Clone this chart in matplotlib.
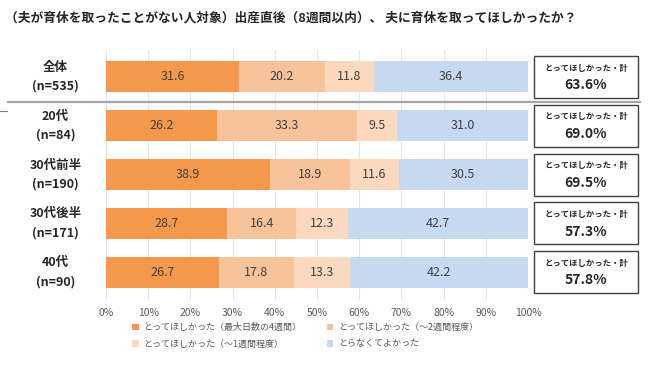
import matplotlib.pyplot as plt
from matplotlib.lines import Line2D
from matplotlib.patches import Rectangle
import matplotlib.transforms as mtransforms

plt.rcParams['font.family'] = ['Noto Sans CJK JP', 'DejaVu Sans']

# data
groups = ['全体\n(n=535)', '20代\n(n=84)', '30代前半\n(n=190)', '30代後半\n(n=171)', '40代\n(n=90)']
series_names = ['とってほしかった（最大日数の4週間）', 'とってほしかった（～2週間程度）',
                'とってほしかった（～1週間程度）', 'とらなくてよかった']
four_weeks = [31.6, 26.2, 38.9, 28.7, 26.7]
two_weeks = [20.2, 33.3, 18.9, 16.4, 17.8]
one_week = [11.8, 9.5, 11.6, 12.3, 13.3]
not_needed = [36.4, 31.0, 30.5, 42.7, 42.2]
totals = [63.6, 69.0, 69.5, 57.3, 57.8]
box_title = 'とってほしかった・計'
title = '（夫が育休を取ったことがない人対象）出産直後（8週間以内）、 夫に育休を取ってほしかったか？'

colors = ['#F4984C', '#F8C39B', '#FBD9BE', '#C6D9F0']

W, H = 658, 366
fig = plt.figure(figsize=(W / 100, H / 100), dpi=100)
ax = fig.add_axes([106 / W, 1 - 300 / H, 422 / W, 250 / H])

series = [four_weeks, two_weeks, one_week, not_needed]
ypos = list(range(len(groups)))
left = [0] * len(groups)
handles = []
for name, vals, c in zip(series_names, series, colors):
    bars = ax.barh(ypos, vals, left=left, height=0.64, color=c, label=name, zorder=2)
    handles.append(bars)
    for y, l, v in zip(ypos, left, vals):
        ax.text(l + v / 2, y, f'{v:.1f}', ha='center', va='center', fontsize=9, color='#404040', zorder=3)
    left = [a + b for a, b in zip(left, vals)]

ax.set_xlim(0, 100)
ax.set_ylim(4.57, -0.55)
ax.set_xticks(range(0, 101, 10))
ax.set_xticklabels([f'{t}%' for t in range(0, 101, 10)])
ax.tick_params(axis='x', length=0, labelsize=7.5, labelcolor='#595959', pad=6)
ax.set_yticks([])
ax.grid(axis='x', color='#E6E6E6', linewidth=0.8, zorder=0)
for s in ax.spines.values():
    s.set_visible(False)

# group labels on the left
for y, g in zip(ypos, groups):
    ax.text(-12, y, g, ha='center', va='center', fontsize=9, fontweight='bold',
            color='#262626', linespacing=1.6)

# separator under the overall row
trans = mtransforms.blended_transform_factory(fig.transFigure, ax.transData)
fig.add_artist(Line2D([8 / W, 640 / W], [0.51, 0.51], transform=trans, color='#A6A6A6', linewidth=1.6))
fig.add_artist(Line2D([0, 7 / W], [0.7, 0.7], transform=trans, color='#808080', linewidth=0.8))

# total boxes on the right
for y, t in zip(ypos, totals):
    fig.add_artist(Rectangle((534 / W, y - 0.43), 104 / W, 0.86, transform=trans,
                             facecolor='white', edgecolor='#404040', linewidth=1.0))
    fig.text(586 / W, 0, box_title, transform=trans, ha='center', va='center', fontsize=6,
             fontweight='bold', color='#262626').set_y(y - 0.18)
    fig.text(586 / W, 0, f'{t:.1f}%', transform=trans, ha='center', va='center', fontsize=10,
             fontweight='bold', color='#262626').set_y(y + 0.17)

fig.text(5 / W, 1 - 18 / H, title, ha='left', va='center', fontsize=9.2, fontweight='bold', color='#262626')

order = [0, 2, 1, 3]
leg = fig.legend([handles[i] for i in order], [series_names[i] for i in order], ncol=2,
                 loc='upper left', bbox_to_anchor=(124 / W, 1 - 315 / H), frameon=False,
                 fontsize=6.5, handlelength=0.75, handleheight=0.75, handletextpad=0.5,
                 columnspacing=2.8, labelspacing=0.8)
for txt in leg.get_texts():
    txt.set_color('#595959')

fig.savefig('out.png', dpi=100)
